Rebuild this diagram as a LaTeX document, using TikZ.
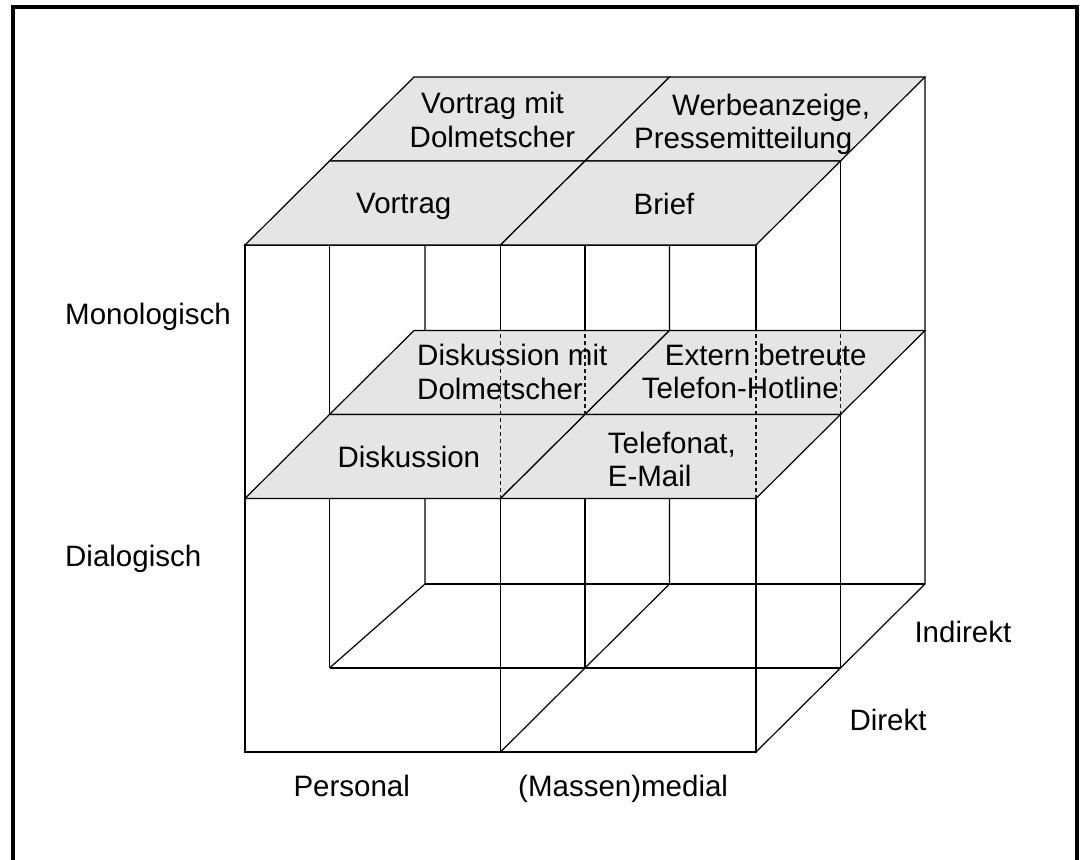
\documentclass[tikz,border=0pt]{standalone}
\usepackage{fontspec}
\setmainfont{Liberation Sans}
\definecolor{slabgray}{RGB}{229,229,229}
\begin{document}
\begin{tikzpicture}[x=1pt,y=-1pt,
  edge/.style={line width=1.2pt, draw=black},
  slab/.style={fill=slabgray, draw=black, line width=1.2pt},
  hiddenline/.style={line width=1.1pt, draw=black!90, dash pattern=on 4pt off 3pt},
  lbl/.style={inner sep=0pt, anchor=base west, font=\fontsize{29.5}{33.5}\selectfont},
  clbl/.style={lbl, anchor=base},
]
\useasboundingbox (0,0) rectangle (1081,859);
\clip (0,0) rectangle (1081,859);

% outer frame (open at the bottom)
\draw[line width=4pt] (13,880) -- (13,7) -- (1077,7) -- (1077,880);

% grid points: p<column><level><depth>
\foreach \d in {0,1,2}
  \foreach \c in {0,1,2}
    \foreach \l in {0,1,2}
      \coordinate (p\c\l\d) at ({245+255.5*\c+84.5*\d},{245+253.5*\l-84*\d});
% the rear left edge sits a little to the right
\coordinate (rlt) at (425,245);
\coordinate (rlb) at (425,584);

% rear and floor edges
\draw[edge] (rlb) -- (p222);
\draw[edge] (p021) -- (p221);
\draw[edge] (rlt) -- (rlb) -- (p021);
\draw[edge] (p122 |- p000) -- (p122) -- (p121) -- (p120);
\draw[edge] (p202) -- (p222) -- (p221) -- (p220);
\draw[edge] (p001 |- p000) -- (p021);
\draw[edge] (p101 |- p000) -- (p121);
\draw[edge] (p201) -- (p221);

% front face
\draw[edge] (p000) rectangle (p220);
\draw[edge] (p100) -- (p120);

% middle layer: dialogic
\path[slab] (p011) -- (p111) -- (p112) -- (p012) -- cycle;
\path[slab] (p111) -- (p211) -- (p212) -- (p112) -- cycle;
\path[slab] (p010) -- (p110) -- (p111) -- (p011) -- cycle;
\path[slab] (p110) -- (p210) -- (p211) -- (p111) -- cycle;

% edges seen through the middle layer
\draw[hiddenline] (p110) -- (p110 |- p012);
\draw[hiddenline] (p210) -- (p210 |- p012);
\draw[hiddenline] (p111) -- (p111 |- p012);
\draw[hiddenline] (p211) -- (p211 |- p012);

% top layer: monologic
\path[slab] (p001) -- (p101) -- (p102) -- (p002) -- cycle;
\path[slab] (p101) -- (p201) -- (p202) -- (p102) -- cycle;
\path[slab] (p000) -- (p100) -- (p101) -- (p001) -- cycle;
\path[slab] (p100) -- (p200) -- (p201) -- (p101) -- cycle;

% cell labels
\node[clbl] (vmd) at (492.5,113.5) {\begin{tabular}[t]{@{}c@{}}Vortrag mit\\Dolmetscher\end{tabular}};
\node[lbl] (werb) at (634,115) {\begin{tabular}[t]{@{}l@{}}\hspace*{38pt}Werbeanzeige,\\Pressemitteilung\end{tabular}};
\node[lbl] (vortrag) at (356,213.5) {Vortrag};
\node[lbl] (brief) at (633.5,214) {Brief};
\node[lbl] (dmd) at (417,365.5) {\begin{tabular}[t]{@{}l@{}}Diskussion mit\\Dolmetscher\end{tabular}};
\node[lbl] (ext) at (641.7,365) {\begin{tabular}[t]{@{}l@{}}\hspace*{23pt}Extern betreute\\Telefon-Hotline\end{tabular}};
\node[lbl] (disk) at (337.3,467.7) {Diskussion};
\node[lbl] (tel) at (607.7,453.3) {\begin{tabular}[t]{@{}l@{}}Telefonat,\\E-Mail\end{tabular}};

% axis labels
\node[lbl] (mono) at (65,324) {Monologisch};
\node[lbl] (dia) at (65,566) {Dialogisch};
\node[lbl] (pers) at (293.3,796) {Personal};
\node[lbl] (mass) at (518,796) {(Massen)medial};
\node[lbl] (ind) at (914.3,642.3) {Indirekt};
\node[lbl] (dir) at (849.3,730) {Direkt};
\end{tikzpicture}
\end{document}
